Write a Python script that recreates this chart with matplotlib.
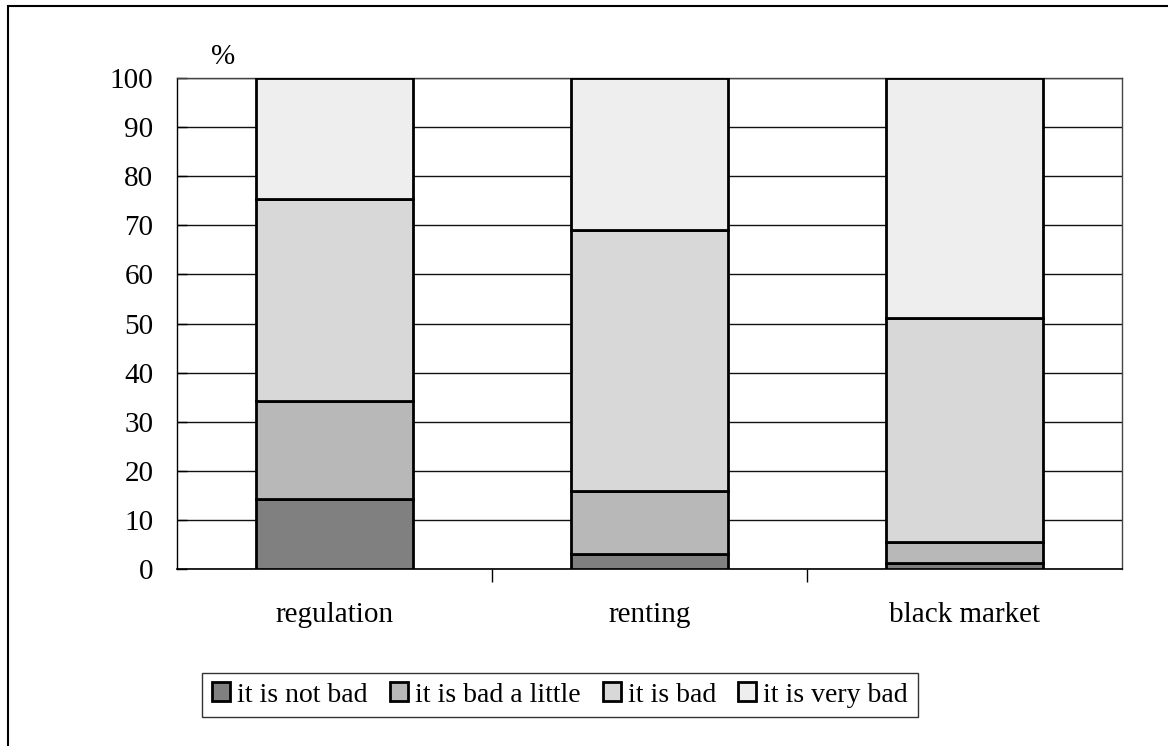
import matplotlib
matplotlib.use("Agg")
import matplotlib.pyplot as plt
import numpy as np
from matplotlib.patches import Rectangle

categories = ["regulation", "renting", "black market"]
series_names = ["it is not bad", "it is bad a little", "it is bad", "it is very bad"]
not_bad = [14.3, 3.0, 1.2]
bad_little = [20.0, 12.9, 4.2]
bad = [41.1, 53.1, 45.7]
very_bad = [24.6, 31.0, 48.9]
y_ticks = [0, 10, 20, 30, 40, 50, 60, 70, 80, 90, 100]

colors = ["#808080", "#b8b8b8", "#d8d8d8", "#eeeeee"]

plt.rcParams['font.family'] = ['Liberation Serif', 'DejaVu Serif']

fig = plt.figure(figsize=(11.68, 7.46), dpi=100)
ax = fig.add_axes([177/1168, 1-569/746, (1122-177)/1168, (569-78)/746])

x = np.arange(len(categories))
bottom = np.zeros(len(categories))
series = [not_bad, bad_little, bad, very_bad]
handles = []
for vals, c, name in zip(series, colors, series_names):
    b = ax.bar(x, vals, width=0.5, bottom=bottom, color=c, edgecolor="black",
               linewidth=2.0, label=name, zorder=3)
    handles.append(b)
    bottom += np.array(vals)

ax.set_xlim(-0.5, len(categories) - 0.5)
ax.set_ylim(0, 100)
ax.set_yticks(y_ticks)
ax.set_yticklabels([str(t) for t in y_ticks], fontsize=21)
ax.yaxis.grid(True, color="#111111", linewidth=1.0, zorder=0)
ax.set_axisbelow(True)
ax.tick_params(axis="y", direction="in", length=7, pad=17, width=1)

ax.set_xticks(x)
ax.set_xticklabels(categories, fontsize=21)
ax.tick_params(axis="x", length=0, pad=24)
ax.set_xticks([0.5, 1.5], minor=True)
ax.tick_params(axis="x", which="minor", direction="out", length=9, width=1)

for s in ["top", "right"]:
    ax.spines[s].set_color("#444444")
    ax.spines[s].set_linewidth(1.0)
ax.spines["left"].set_linewidth(1.0)
ax.spines["bottom"].set_linewidth(1.2)

fig.text(223/1168, 1-57/746, "%", fontsize=21, ha="center", va="center")

leg = fig.legend(handles=handles, labels=series_names, loc="center",
                 bbox_to_anchor=(560/1168, 1-695/746), ncol=4, fontsize=20,
                 frameon=True, fancybox=False, edgecolor="black",
                 handlelength=0.65, handleheight=0.65, handletextpad=0.25,
                 columnspacing=0.8, borderpad=0.35)
leg.get_frame().set_linewidth(1.0)

fig.patches.append(Rectangle((8/1168, -0.05), 1.2, 1.05 - 6/746,
                             transform=fig.transFigure, fill=False,
                             edgecolor="black", linewidth=1.5))

fig.savefig("out.png", dpi=100)
